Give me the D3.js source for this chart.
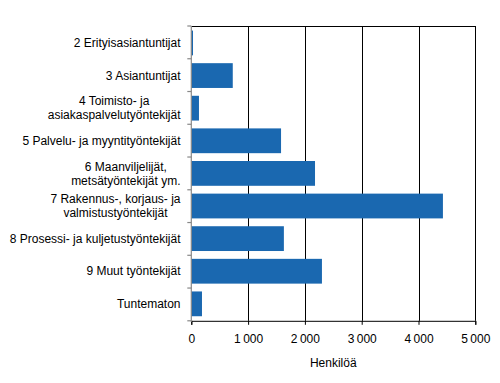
<!DOCTYPE html>
<html><head><meta charset="utf-8">
<script src="https://cdn.jsdelivr.net/npm/d3@7"></script>
<style>body{margin:0;background:#fff}svg{display:block}text{font-family:"Liberation Sans",Arial,sans-serif;font-size:12px;fill:#000}</style>
</head><body>
<svg id="c" width="500" height="383"></svg>
<script>
const categories = [
  ["2 Erityisasiantuntijat"],
  ["3 Asiantuntijat"],
  ["4 Toimisto- ja", "asiakaspalvelutyöntekijät"],
  ["5 Palvelu- ja myyntityöntekijät"],
  ["6 Maanviljelijät,", "metsätyöntekijät ym."],
  ["7 Rakennus-, korjaus- ja", "valmistustyöntekijät"],
  ["8 Prosessi- ja kuljetustyöntekijät"],
  ["9 Muut työntekijät"],
  ["Tuntematon"]
];
const values = [30, 730, 135, 1580, 2178, 4430, 1630, 2300, 188];
const xTicks = [0, 1000, 2000, 3000, 4000, 5000];
const axisTitle = "Henkilöä";

const svg = d3.select("#c");
const L = 191.3, R = 475.3, T = 26, B = 320.8;
const x = d3.scaleLinear().domain([0, 5000]).range([L, R]);
const y = d3.scaleBand().domain(d3.range(categories.length)).range([T, B]).paddingInner(0.24).paddingOuter(0.14);
const step = (B - T) / categories.length;

svg.append("g").selectAll("line").data(xTicks.slice(1)).join("line")
  .attr("x1", d => Math.round(x(d)) + 0.5).attr("x2", d => Math.round(x(d)) + 0.5)
  .attr("y1", T).attr("y2", B).attr("stroke", "#000").attr("stroke-width", 1);
svg.append("line").attr("x1", L).attr("x2", Math.round(R) + 1).attr("y1", T + 0.5).attr("y2", T + 0.5).attr("stroke", "#000");

svg.append("g").selectAll("rect").data(values).join("rect")
  .attr("x", x(0)).attr("y", (d, i) => y(i)).attr("width", d => x(d) - x(0)).attr("height", y.bandwidth())
  .attr("fill", "#1a68b0");

const xa = svg.append("g").attr("transform", `translate(0,${B})`)
  .call(d3.axisBottom(x).tickValues(xTicks).tickSize(4).tickFormat(d => d3.format(",")(d).replace(/,/g, "\u2009")));
xa.select(".domain").attr("stroke", "#000");
xa.selectAll(".tick line").attr("stroke", "#000");
xa.selectAll(".tick text").attr("dy", "15px").style("font-size", "12px").style("font-family", "'Liberation Sans',Arial,sans-serif");

svg.append("line").attr("x1", L).attr("x2", L).attr("y1", T).attr("y2", B + 1).attr("stroke", "#888").attr("stroke-width", 1.2);
svg.append("g").selectAll("line").data(d3.range(categories.length + 1)).join("line")
  .attr("x1", L - 4).attr("x2", L).attr("y1", i => T + i * step).attr("y2", i => T + i * step)
  .attr("stroke", "#888").attr("stroke-width", 1.2);

const labelRight = 180.5;
const lh = 14;
categories.forEach((lines, i) => {
  const cy = y(i) + y.bandwidth() / 2;
  const g = svg.append("g");
  const texts = lines.map((s, j) => g.append("text").text(s)
    .attr("y", cy + (j - (lines.length - 1) / 2) * lh).attr("dy", "0.35em"));
  const w = d3.max(texts, t => t.node().getComputedTextLength());
  texts.forEach(t => t.attr("x", labelRight - w / 2).attr("text-anchor", "middle"));
});

svg.append("text").attr("x", (L + R) / 2).attr("y", 367).attr("text-anchor", "middle").text(axisTitle);
</script>
</body></html>
